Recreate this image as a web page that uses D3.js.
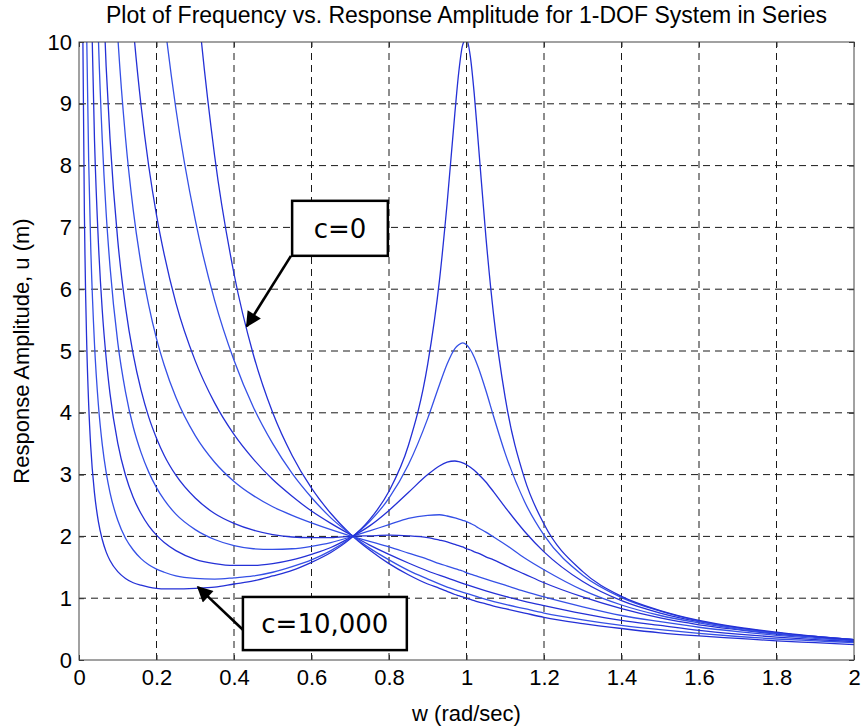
<!DOCTYPE html>
<html>
<head>
<meta charset="utf-8">
<script src="https://cdn.jsdelivr.net/npm/d3@7"></script>
<style>
  body { margin: 0; background: #fff; }
</style>
</head>
<body>
<div id="chart"></div>
<script>
// frequency grid (rad/sec), shared by every curve
const freq = [0.005, 0.01, 0.015, 0.02, 0.025, 0.03, 0.04, 0.05, 0.06, 0.07, 0.08, 0.1, 0.12, 0.14, 0.16, 0.18,
  0.2, 0.22, 0.25, 0.3, 0.35, 0.4, 0.45, 0.5, 0.55, 0.6, 0.65, 0.7, 0.75, 0.8, 0.85, 0.9, 0.93, 0.95, 0.97, 0.98,
  0.99, 1.0, 1.01, 1.02, 1.03, 1.05, 1.07, 1.1, 1.15, 1.2, 1.3, 1.4, 1.5, 1.6, 1.7, 1.8, 1.9, 2.0];

// response amplitude u (m) for each damping value, null = not read
const ampC0 = [null, null, null, null, null, null, null, null, null, null, null, null, null, null, null, null,
  null, null, 16.0, 11.11, 8.16, 6.25, 4.94, 4.00, 3.31, 2.78, 2.37, 2.04, 1.78, 1.56, 1.38, 1.23, 1.16, 1.11, 1.06, 1.04,
  1.02, 1.00, 0.98, 0.96, 0.94, 0.91, 0.87, 0.83, 0.76, 0.69, 0.59, 0.51, 0.44, 0.39, 0.35, 0.31, 0.28, 0.25];
const ampC400 = [null, null, null, null, null, null, null, null, null, null, null, null, null, null, null, 13.05,
  11.58, 10.38, 8.92, 7.12, 5.82, 4.85, 4.09, 3.50, 3.02, 2.63, 2.30, 2.04, 1.81, 1.62, 1.45, 1.31, null, 1.18, null, null,
  null, 1.08, null, null, null, 0.98, null, 0.90, 0.83, 0.76, 0.65, 0.56, 0.49, 0.43, 0.38, 0.34, 0.31, 0.28];
const ampC700 = [null, null, null, null, null, null, null, null, null, null, null, null, 11.94, 10.25, 8.98, 7.99,
  7.20, 6.56, 5.78, 4.84, 4.16, 3.65, 3.25, 2.92, 2.65, 2.41, 2.21, 2.03, 1.86, 1.71, 1.57, 1.44, null, 1.33, null, null,
  null, 1.22, null, null, null, 1.12, null, 1.03, 0.95, 0.88, 0.75, 0.64, 0.56, 0.48, 0.42, 0.37, 0.33, 0.30];
const ampC1000 = [null, null, null, null, null, null, null, null, null, null, 12.58, 10.10, 8.45, 7.28, 6.41, 5.74,
  5.20, 4.77, 4.25, 3.63, 3.20, 2.89, 2.66, 2.48, 2.34, 2.22, 2.11, 2.01, 1.92, 1.83, 1.73, 1.63, 1.56, 1.52, 1.48, 1.46,
  1.44, 1.41, 1.39, 1.37, 1.35, 1.31, 1.27, 1.21, 1.11, 1.02, 0.86, 0.72, 0.62, 0.53, 0.46, 0.40, 0.35, 0.31];
const ampC1500 = [null, null, null, null, null, null, null, 13.4, 11.19, 9.61, 8.44, 6.79, 5.71, 4.94, 4.37, 3.93,
  3.59, 3.31, 2.99, 2.62, 2.37, 2.21, 2.10, 2.03, 1.99, 1.98, 1.98, 2.00, 2.01, 2.02, 2.01, 1.98, 1.94, 1.91, 1.87, 1.85,
  1.83, 1.80, 1.78, 1.75, 1.73, 1.67, 1.62, 1.53, 1.39, 1.25, 1.02, 0.83, 0.68, 0.57, 0.49, 0.42, 0.37, 0.32];
const ampC2000 = [null, null, null, null, null, 16.7, 12.56, 10.07, 8.42, 7.24, 6.37, 5.14, 4.34, 3.77, 3.36, 3.04,
  2.79, 2.59, 2.36, 2.11, 1.95, 1.85, 1.80, 1.79, 1.80, 1.84, 1.90, 1.99, 2.09, 2.19, 2.29, 2.34, 2.35, 2.33, 2.30, 2.28,
  2.26, 2.24, 2.21, 2.18, 2.14, 2.07, 1.99, 1.87, 1.65, 1.46, 1.13, 0.89, 0.72, 0.60, 0.50, 0.43, 0.37, 0.33];
const ampC3000 = [null, null, null, 16.7, 13.38, 11.17, 8.41, 6.76, 5.66, 4.89, 4.31, 3.51, 2.99, 2.63, 2.37, 2.17,
  2.02, 1.90, 1.77, 1.63, 1.56, 1.53, 1.53, 1.56, 1.62, 1.71, 1.82, 1.98, 2.17, 2.42, 2.71, 3.00, 3.14, 3.20, 3.22, 3.21,
  3.19, 3.16, 3.12, 3.07, 3.01, 2.88, 2.72, 2.47, 2.08, 1.75, 1.27, 0.96, 0.76, 0.62, 0.52, 0.44, 0.38, 0.33];
const ampC5000 = [null, 20.0, 13.4, 10.05, 8.07, 6.75, 5.11, 4.13, 3.49, 3.04, 2.71, 2.26, 1.97, 1.78, 1.64, 1.54,
  1.47, 1.42, 1.36, 1.32, 1.31, 1.33, 1.36, 1.42, 1.51, 1.62, 1.77, 1.97, 2.24, 2.62, 3.16, 3.91, 4.45, 4.79, 5.04, 5.10,
  5.13, 5.10, 5.02, 4.90, 4.74, 4.36, 3.94, 3.34, 2.56, 2.02, 1.37, 1.01, 0.79, 0.63, 0.52, 0.44, 0.38, 0.33];
const ampC10000 = [20.0, 10.05, 6.74, 5.10, 4.13, 3.48, 2.70, 2.24, 1.95, 1.75, 1.61, 1.43, 1.32, 1.25, 1.21, 1.18,
  1.16, 1.15, 1.15, 1.16, 1.18, 1.23, 1.28, 1.36, 1.45, 1.58, 1.74, 1.96, 2.27, 2.73, 3.47, 4.79, 6.13, 7.39, 8.85, 9.51,
  9.95, 10.05, 9.76, 9.16, 8.40, 6.85, 5.58, 4.24, 2.93, 2.20, 1.43, 1.03, 0.80, 0.64, 0.53, 0.45, 0.38, 0.33];

const xTicks = [0, 0.2, 0.4, 0.6, 0.8, 1, 1.2, 1.4, 1.6, 1.8, 2];
const xTickLabels = ["0", "0.2", "0.4", "0.6", "0.8", "1", "1.2", "1.4", "1.6", "1.8", "2"];
const yTicks = [0, 1, 2, 3, 4, 5, 6, 7, 8, 9, 10];
const yTickLabels = ["0", "1", "2", "3", "4", "5", "6", "7", "8", "9", "10"];

// callouts, in data units: box corners, arrow tail and tip
const notes = [
  {text: "c=0", box: [0.55, 7.43, 0.797, 6.54], tail: [0.547, 6.54], tip: [0.433, 5.40]},
  {text: "c=10,000", box: [0.423, 1.02, 0.846, 0.16], tail: [0.423, 0.49], tip: [0.307, 1.18]}
];

const width = 863, height = 727;
const margin = {top: 42, right: 9, bottom: 67, left: 79};
const font = "'Liberation Sans', Arial, sans-serif";

const x = d3.scaleLinear().domain([0, 2]).range([margin.left, width - margin.right]);
const y = d3.scaleLinear().domain([0, 10]).range([height - margin.bottom, margin.top]);

const svg = d3.create("svg")
    .attr("width", width)
    .attr("height", height)
    .attr("viewBox", [0, 0, width, height])
    .style("font-family", font);

svg.append("rect").attr("width", width).attr("height", height).attr("fill", "#fff");

const defs = svg.append("defs");
defs.append("clipPath").attr("id", "plot-clip")
  .append("rect")
    .attr("x", x(0)).attr("y", y(10))
    .attr("width", x(2) - x(0)).attr("height", y(0) - y(10));
defs.append("marker")
    .attr("id", "arrow")
    .attr("viewBox", "0 0 10 10")
    .attr("refX", 9).attr("refY", 5)
    .attr("markerWidth", 7).attr("markerHeight", 6)
    .attr("orient", "auto")
  .append("path")
    .attr("d", "M0,0L10,5L0,10z")
    .attr("fill", "#000");

// dashed grid
svg.append("g")
  .selectAll("line")
  .data(xTicks.slice(1, -1))
  .join("line")
    .attr("x1", d => x(d)).attr("x2", d => x(d))
    .attr("y1", y(0)).attr("y2", y(10))
    .attr("stroke", "#1a1a1a").attr("stroke-dasharray", "7,5");
svg.append("g")
  .selectAll("line")
  .data(yTicks.slice(1, -1))
  .join("line")
    .attr("x1", x(0)).attr("x2", x(2))
    .attr("y1", d => y(d)).attr("y2", d => y(d))
    .attr("stroke", "#1a1a1a").attr("stroke-dasharray", "7,5");

// curves
const series = [ampC0, ampC400, ampC700, ampC1000, ampC1500, ampC2000, ampC3000, ampC5000, ampC10000];
const line = d3.line()
    .x(d => x(d[0]))
    .y(d => y(d[1]))
    .curve(d3.curveMonotoneX);

svg.append("g")
    .attr("clip-path", "url(#plot-clip)")
  .selectAll("path")
  .data(series)
  .join("path")
    .attr("fill", "none")
    .attr("stroke", (d, i) => i % 2 ? "#3550e6" : "#2430d6")
    .attr("stroke-width", 1.3)
    .attr("d", s => line(freq.map((w, i) => [w, s[i]]).filter(d => d[1] != null)));

// axes, MATLAB style: ticks pointing inwards on all four sides
const styleAxis = g => g
    .call(g => g.select(".domain").remove())
    .call(g => g.selectAll(".tick line").attr("stroke", "#333"))
    .call(g => g.selectAll("text")
        .attr("font-family", font)
        .attr("font-size", 22)
        .attr("fill", "#000"));

svg.append("g")
    .attr("transform", `translate(0,${y(0)})`)
    .call(d3.axisBottom(x).tickValues(xTicks).tickFormat((d, i) => xTickLabels[i]).tickSize(-5).tickPadding(9))
    .call(styleAxis);
svg.append("g")
    .attr("transform", `translate(0,${y(10)})`)
    .call(d3.axisTop(x).tickValues(xTicks).tickFormat("").tickSize(-5))
    .call(styleAxis);
svg.append("g")
    .attr("transform", `translate(${x(0)},0)`)
    .call(d3.axisLeft(y).tickValues(yTicks).tickFormat((d, i) => yTickLabels[i]).tickSize(-5).tickPadding(7))
    .call(styleAxis);
svg.append("g")
    .attr("transform", `translate(${x(2)},0)`)
    .call(d3.axisRight(y).tickValues(yTicks).tickFormat("").tickSize(-5))
    .call(styleAxis);

svg.append("rect")
    .attr("x", x(0)).attr("y", y(10))
    .attr("width", x(2) - x(0)).attr("height", y(0) - y(10))
    .attr("fill", "none").attr("stroke", "#444");

// titles
svg.append("text")
    .attr("x", (x(0) + x(2)) / 2).attr("y", 23)
    .attr("text-anchor", "middle")
    .attr("font-size", 23)
    .text("Plot of Frequency vs. Response Amplitude for 1-DOF System in Series");
svg.append("text")
    .attr("x", (x(0) + x(2)) / 2).attr("y", 721)
    .attr("text-anchor", "middle")
    .attr("font-size", 22)
    .text("w (rad/sec)");
svg.append("text")
    .attr("transform", `translate(29,${(y(0) + y(10)) / 2}) rotate(-90)`)
    .attr("text-anchor", "middle")
    .attr("font-size", 22)
    .text("Response Amplitude, u (m)");

// callouts
const note = svg.append("g")
  .selectAll("g")
  .data(notes)
  .join("g");

note.append("line")
    .attr("x1", d => x(d.tail[0])).attr("y1", d => y(d.tail[1]))
    .attr("x2", d => x(d.tip[0])).attr("y2", d => y(d.tip[1]))
    .attr("stroke", "#000").attr("stroke-width", 2.6)
    .attr("marker-end", "url(#arrow)");

note.append("rect")
    .attr("x", d => x(d.box[0])).attr("y", d => y(d.box[1]))
    .attr("width", d => x(d.box[2]) - x(d.box[0]))
    .attr("height", d => y(d.box[3]) - y(d.box[1]))
    .attr("fill", "#fff").attr("stroke", "#000").attr("stroke-width", 2.5);

note.append("text")
    .attr("x", d => (x(d.box[0]) + x(d.box[2])) / 2)
    .attr("y", d => (y(d.box[1]) + y(d.box[3])) / 2)
    .attr("dy", "0.36em")
    .attr("text-anchor", "middle")
    .attr("font-family", "'DejaVu Sans', Verdana, sans-serif")
    .attr("font-size", 26)
    .text(d => d.text);

document.getElementById("chart").appendChild(svg.node());
</script>
</body>
</html>
